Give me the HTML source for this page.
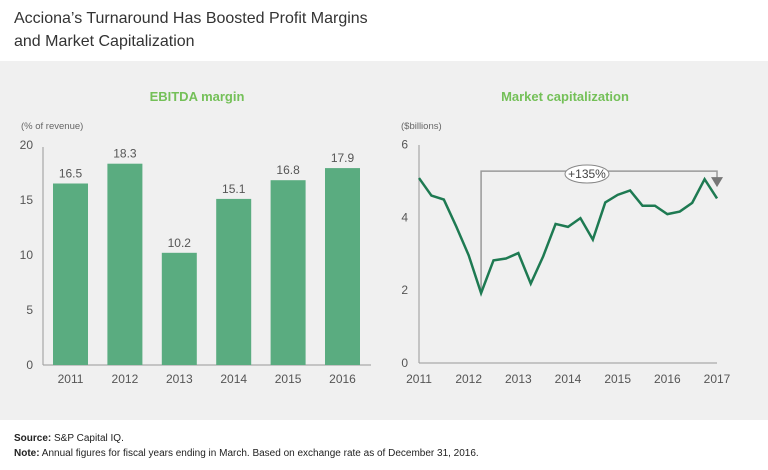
<!DOCTYPE html>
<html><head><meta charset="utf-8"><style>
body{margin:0;width:768px;height:470px;background:#fff;font-family:"Liberation Sans",sans-serif;overflow:hidden}
svg{display:block}
</style></head><body>
<svg id="c" width="768" height="470">
<rect x="0" y="61" width="768" height="359" fill="#f0f0f0"/>
<text x="14" y="23" font-size="16" fill="#333">Acciona’s Turnaround Has Boosted Profit Margins</text>
<text x="14" y="46" font-size="16" fill="#333">and Market Capitalization</text>
<text x="197" y="101" font-size="13" font-weight="bold" fill="#74c058" text-anchor="middle">EBITDA margin</text>
<text x="565" y="101" font-size="13" font-weight="bold" fill="#74c058" text-anchor="middle">Market capitalization</text>
<text x="21" y="129" font-size="9.5" fill="#666">(% of revenue)</text>
<text x="401" y="129" font-size="9.5" fill="#666">($billions)</text>
<text x="14" y="441" font-size="10" fill="#222"><tspan font-weight="bold">Source:</tspan> S&amp;P Capital IQ.</text>
<text x="14" y="456" font-size="10" fill="#222"><tspan font-weight="bold">Note:</tspan> Annual figures for fiscal years ending in March. Based on exchange rate as of December 31, 2016.</text>
<g id="bars"></g><g id="line"></g>
</svg>
<script>
const barYears=["2011","2012","2013","2014","2015","2016"];
const barValues=[16.5,18.3,10.2,15.1,16.8,17.9];
const barTicks=[0,5,10,15,20];
const lineTimes=[2011,2011.25,2011.5,2011.75,2012,2012.25,2012.5,2012.75,2013,2013.25,2013.5,2013.75,2014,2014.25,2014.5,2014.75,2015,2015.25,2015.5,2015.75,2016,2016.25,2016.5,2016.75,2017];
const lineValues=[5.08,4.6,4.49,3.75,2.96,1.92,2.82,2.87,3.02,2.18,2.93,3.82,3.74,3.98,3.39,4.41,4.62,4.74,4.32,4.32,4.09,4.16,4.4,5.05,4.52];
const lineTicks=[0,2,4,6];
const lineYearLabels=["2011","2012","2013","2014","2015","2016","2017"];
const NS="http://www.w3.org/2000/svg";
function mk(p,t,a){const e=document.createElementNS(NS,t);for(const k in a)e.setAttribute(k,a[k]);p.appendChild(e);return e;}
// bar chart
const bg=document.getElementById('bars');
const by=v=>365-v*11, bx0=43, bstep=54.4, bw=35;
const bx=i=>bx0+10+i*bstep;
barTicks.forEach(t=>{const e=mk(bg,'text',{x:33,y:by(t)+4,'font-size':12,fill:'#555','text-anchor':'end'});e.textContent=t;

});
let ax=mk(bg,'line',{x1:43,y1:147,x2:43,y2:365,stroke:'#999','stroke-width':1});


ax=mk(bg,'line',{x1:43,y1:365,x2:371,y2:365,stroke:'#999','stroke-width':1});


barValues.forEach((v,i)=>{
 const r=mk(bg,'rect',{x:bx(i),y:by(v),width:bw,height:v*11,fill:'#5aac80'});
 
 
 const l=mk(bg,'text',{x:bx(i)+bw/2,y:by(v)-6,'font-size':12,fill:'#555','text-anchor':'middle'});l.textContent=v.toFixed(1);
 
 
 const c=mk(bg,'text',{x:bx(i)+bw/2,y:383,'font-size':12,fill:'#555','text-anchor':'middle'});c.textContent=barYears[i];
 
 
});
// line chart
const lg=document.getElementById('line');
const lx=t=>419+(t-2011)*49.67, ly=v=>363-v*36.4;
lineTicks.forEach(t=>{const e=mk(lg,'text',{x:408,y:ly(t)+4,'font-size':12,fill:'#555','text-anchor':'end'});e.textContent=t;

});
lineYearLabels.forEach((y,i)=>{const e=mk(lg,'text',{x:lx(2011+i),y:383,'font-size':12,fill:'#555','text-anchor':'middle'});e.textContent=y;

});
ax=mk(lg,'line',{x1:419,y1:145,x2:419,y2:363,stroke:'#999'});


ax=mk(lg,'line',{x1:419,y1:363,x2:717,y2:363,stroke:'#999'});


// annotation bracket
const x1=lx(2012.25),x2=lx(2017),yt=ly(5.27);
const br=mk(lg,'polyline',{points:`${x1},${ly(1.95)} ${x1},${yt} ${x2},${yt} ${x2},${yt+8}`,fill:'none',stroke:'#999','stroke-width':1.5});


const ar=mk(lg,'path',{d:`M${x2-6},${yt+6} L${x2+6},${yt+6} L${x2},${yt+16} Z`,fill:'#777'});


const el=mk(lg,'ellipse',{cx:587,cy:174,rx:22,ry:9,fill:'#fff',stroke:'#888'});


const gt=mk(lg,'text',{x:587,y:178,'font-size':12,fill:'#444','text-anchor':'middle'});gt.textContent='+135%';


const pts=lineTimes.map((t,i)=>lx(t)+','+ly(lineValues[i])).join(' ');
const pl=mk(lg,'polyline',{points:pts,fill:'none',stroke:'#1e7a52','stroke-width':2.5,'stroke-linejoin':'miter'});


</script>
</body></html>
